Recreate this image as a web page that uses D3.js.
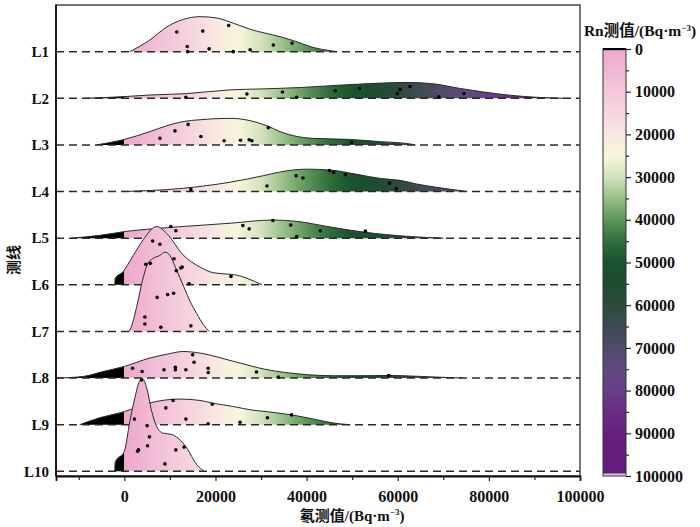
<!DOCTYPE html>
<html>
<head>
<meta charset="utf-8">
<script src="https://cdn.jsdelivr.net/npm/d3@7"></script>
<style>
  body { margin: 0; background: #fff; }
  text { font-family: "Liberation Serif", "Times New Roman", "Noto Sans CJK SC", serif; font-weight: bold; fill: #111; }
</style>
</head>
<body>
<div id="chart"></div>
<script>
// survey lines
const lines = ["L1", "L2", "L3", "L4", "L5", "L6", "L7", "L8", "L9", "L10"];

// density outline per line: [Rn value, ridge height in row units]
const densL1 = [[1200,0],[5600,0.25],[9300,0.53],[12900,0.69],[16600,0.75],[20300,0.72],[23900,0.61],[27600,0.48],[34200,0.32],[37900,0.21],[41400,0.09],[45200,0.02],[46600,0]];
const densL2 = [[-8700,0],[-1000,0.03],[5600,0.07],[13700,0.1],[23200,0.18],[30000,0.2],[38600,0.23],[48800,0.29],[55000,0.32],[62000,0.34],[67800,0.31],[73700,0.21],[78800,0.135],[84700,0.064],[90600,0.02],[96400,0]];
const densL3 = [[-6100,0],[-300,0.11],[5600,0.285],[9300,0.41],[12900,0.5],[16600,0.54],[23200,0.57],[27600,0.52],[31300,0.41],[34200,0.285],[37900,0.18],[41400,0.14],[48800,0.12],[56200,0.07],[62700,0.02],[63900,0]];
const densL4 = [[-600,0],[12900,0.07],[23200,0.2],[30500,0.34],[34200,0.42],[40000,0.48],[45200,0.46],[51000,0.37],[56200,0.28],[60500,0.24],[64200,0.16],[70000,0.07],[75200,0]];
const densL5 = [[-11600,0],[-5400,0.06],[0,0.14],[6000,0.2],[12900,0.25],[23200,0.32],[32700,0.39],[37900,0.36],[45200,0.24],[52500,0.13],[62700,0.035],[70000,0]];
const densL6 = [[-2100,0],[-2000,0.14],[-300,0.28],[1900,0.62],[4100,0.96],[7100,1.25],[9300,1.1],[12900,0.64],[16600,0.38],[19500,0.26],[22500,0.23],[24500,0.21],[26900,0.14],[30200,0]];
const densL7 = [[1000,0],[1600,0.12],[2800,0.57],[4000,1.1],[5100,1.45],[6200,1.56],[7800,1.63],[8900,1.7],[10000,1.63],[11100,1.4],[12200,1.15],[13300,0.9],[14400,0.65],[15900,0.38],[17300,0.15],[18600,0]];
const densL8 = [[-14900,0],[-9000,0.035],[-4700,0.14],[0,0.25],[5600,0.43],[9300,0.51],[12900,0.57],[16600,0.535],[23900,0.36],[31300,0.18],[38600,0.086],[45900,0.05],[51000,0.05],[58300,0.056],[65000,0.035],[74100,0]];
const densL9 = [[-9800,0],[-5400,0.15],[0,0.28],[4900,0.45],[9000,0.53],[12200,0.55],[16600,0.52],[19500,0.46],[23900,0.39],[28300,0.31],[31300,0.28],[37900,0.19],[42200,0.107],[45900,0.036],[49600,0]];
const densL10 = [[-2100,0],[-2000,0.2],[0,0.43],[1200,1.07],[2300,1.57],[3300,1.93],[4000,1.99],[4900,1.79],[6000,1.29],[7100,0.96],[8500,0.82],[10400,0.79],[11800,0.71],[13700,0.5],[15900,0.14],[17500,0]];

// measured samples per line: [Rn value, jitter height in row units]
const dotsL1 = [[11500,0.42],[17200,0.44],[22900,0.56],[13800,0.11],[13900,0],[18600,0.06],[23900,0],[27600,0.04],[32700,0.14],[36800,0.18]];
const dotsL2 = [[13500,0.02],[26900,0.09],[34700,0.135],[37800,0.02],[46300,0.16],[51600,0.21],[59900,0.1],[60500,0.19],[62700,0.25],[69000,0.03],[74500,0.1]];
const dotsL3 = [[7800,0.14],[11100,0.3],[14000,0.44],[16800,0.18],[21900,0.09],[25500,0.1],[27400,0.11],[28000,0.09],[31600,0.37],[49900,0.05]];
const dotsL4 = [[14600,0.04],[31300,0.12],[37700,0.34],[39200,0.29],[45000,0.45],[45900,0.41],[48500,0.36],[58200,0.18],[59700,0.06]];
const dotsL5 = [[10200,0.25],[11300,0.16],[26000,0.27],[27400,0.2],[32600,0.38],[36500,0.28],[37800,0.035],[43000,0.16],[52900,0.15]];
const dotsL6 = [[6200,0.94],[7800,0.87],[4700,0.44],[5700,0.46],[10900,0.56],[11400,0.3],[12400,0.36],[12700,0.38],[14200,0.02],[23400,0.18]];
const dotsL7 = [[7200,0.73],[9500,0.79],[10800,0.82],[4500,0.31],[4500,0.16],[8000,0.09],[14600,0.12]];
const dotsL8 = [[1800,0.21],[3900,0.14],[8700,0.18],[11200,0.23],[11200,0.18],[13500,0.18],[15000,0.5],[15300,0.34],[18400,0.21],[18400,0.12],[29000,0.13],[33800,0.02],[58000,0.056]];
const dotsL9 = [[2200,0.12],[9100,0.36],[10700,0.52],[13500,0.12],[18400,0.02],[19300,0.44],[25400,0.05],[31400,0.15],[36700,0.21]];
const dotsL10 = [[3800,1.96],[5000,0.98],[5500,0.74],[5100,0.55],[2900,0.43],[3100,0.46],[11300,0.46],[13100,0.52],[8900,0.16]];

// axis ticks
const xTicks = [0, 20000, 40000, 60000, 80000, 100000];
const xMinorTicks = [-10000, 10000, 30000, 50000, 70000, 90000];
const cbarTicks = [0, 10000, 20000, 30000, 40000, 50000, 60000, 70000, 80000, 90000, 100000];
const cbarMinorTicks = [5000, 15000, 25000, 35000, 45000, 55000, 65000, 75000, 85000, 95000];

// colour map (values below 0 drawn black)
const cmapValues = [0, 10000, 15000, 20000, 25000, 30000, 35000, 40000, 45000, 50000, 55000, 60000, 65000, 70000, 75000, 80000, 85000, 90000, 100000];
const cmapColors = ["#eea8cb", "#f3c7db", "#f6d6de", "#f9e8e0", "#f7f6dc", "#d3e2bf", "#97bf86", "#5f965a", "#2f6e3c", "#1a522e", "#1c4c30", "#2d4b3c", "#3d4c55", "#504b69", "#604a80", "#693f88", "#6a2c84", "#661f7e", "#641c7c"];

const ridges = lines.map((name, i) => ({
  name, idx: i + 1,
  dens: [densL1, densL2, densL3, densL4, densL5, densL6, densL7, densL8, densL9, densL10][i],
  dots: [dotsL1, dotsL2, dotsL3, dotsL4, dotsL5, dotsL6, dotsL7, dotsL8, dotsL9, dotsL10][i]
}));

const W = 700, H = 527;
const plot = { left: 56, right: 580, top: 5, bottom: 476 };

const svg = d3.select("#chart").append("svg")
  .attr("width", W).attr("height", H)
  .attr("viewBox", `0 0 ${W} ${H}`);

const x = d3.scaleLinear().domain([-15000, 100000]).range([plot.left, plot.right]);
const y = d3.scaleLinear().domain([0, 10.1]).range([plot.top, plot.bottom]);
const color = d3.scaleLinear().domain(cmapValues).range(cmapColors).interpolate(d3.interpolateRgb);

const defs = svg.append("defs");
defs.append("clipPath").attr("id", "plotClip")
  .append("rect")
  .attr("x", plot.left).attr("y", plot.top)
  .attr("width", plot.right - plot.left).attr("height", plot.bottom - plot.top);

// horizontal fill gradient for ridges
const fillGrad = defs.append("linearGradient").attr("id", "ridgeFill")
  .attr("gradientUnits", "userSpaceOnUse")
  .attr("x1", x(-15000)).attr("x2", x(100000)).attr("y1", 0).attr("y2", 0);
const span = x(100000) - x(-15000);
const off = v => (x(v) - x(-15000)) / span;
fillGrad.append("stop").attr("offset", 0).attr("stop-color", "#000");
fillGrad.append("stop").attr("offset", off(0)).attr("stop-color", "#000");
d3.range(0, 100001, 1000).forEach(v => {
  fillGrad.append("stop").attr("offset", off(v)).attr("stop-color", color(v));
});

// ridges
const g = svg.append("g").attr("clip-path", "url(#plotClip)");
ridges.forEach(r => {
  const area = d3.area()
    .x(d => x(d[0]))
    .y0(y(r.idx))
    .y1(d => y(r.idx - d[1]))
    .curve(d3.curveMonotoneX);
  const line = d3.line()
    .x(d => x(d[0]))
    .y(d => y(r.idx - d[1]))
    .curve(d3.curveMonotoneX);
  g.append("path").datum(r.dens)
    .attr("d", area)
    .attr("fill", "url(#ridgeFill)");
  g.append("path").datum(r.dens)
    .attr("d", line)
    .attr("fill", "none")
    .attr("stroke", "#2a2a2a")
    .attr("stroke-width", 1);
  g.append("line")
    .attr("x1", plot.left).attr("x2", plot.right)
    .attr("y1", y(r.idx)).attr("y2", y(r.idx))
    .attr("stroke", "#2a2a2a")
    .attr("stroke-width", 1.5)
    .attr("stroke-dasharray", "8,5");
});

// sample points on top
ridges.forEach(r => {
  g.selectAll(null).data(r.dots).join("circle")
    .attr("cx", d => x(d[0]))
    .attr("cy", d => y(r.idx - d[1]))
    .attr("r", 1.8)
    .attr("fill", "#000");
});

// frame
svg.append("rect")
  .attr("x", plot.left).attr("y", plot.top)
  .attr("width", plot.right - plot.left).attr("height", plot.bottom - plot.top)
  .attr("fill", "none").attr("stroke", "#4a4a4a").attr("stroke-width", 1.5);

// x axis
const xAxis = svg.append("g").attr("transform", `translate(0,${plot.bottom})`)
  .call(d3.axisBottom(x).tickValues(xTicks).tickSize(5).tickPadding(10).tickFormat(d3.format("d")));
svg.append("g").attr("transform", `translate(0,${plot.bottom})`)
  .call(d3.axisBottom(x).tickValues(xMinorTicks).tickSize(4).tickFormat(""))
  .call(a => a.select(".domain").remove());
xAxis.select(".domain").attr("stroke", "#111").attr("stroke-width", 1.8);
svg.selectAll(".tick line").attr("stroke", "#222").attr("stroke-width", 1.2);
xAxis.selectAll("text").attr("font-size", 16).attr("font-family", null);

// y axis labels
svg.append("line")
  .attr("x1", plot.left).attr("x2", plot.left)
  .attr("y1", plot.top).attr("y2", plot.bottom)
  .attr("stroke", "#111").attr("stroke-width", 1.8);
svg.selectAll(".ylab").data(ridges).join("text")
  .attr("class", "ylab")
  .attr("x", plot.left - 7)
  .attr("y", d => y(d.idx))
  .attr("dy", "0.35em")
  .attr("text-anchor", "end")
  .attr("font-size", 15)
  .text(d => d.name);

// axis titles
const xt = svg.append("text")
  .attr("x", x(50000)).attr("y", 521)
  .attr("text-anchor", "middle").attr("font-size", 15);
xt.append("tspan").text("氡测值/(Bq·m");
xt.append("tspan").attr("dy", -6).attr("font-size", 9).text("−3");
xt.append("tspan").attr("dy", 6).text(")");

svg.append("text")
  .attr("transform", "translate(19,260) rotate(-90)")
  .attr("text-anchor", "middle").attr("font-size", 15)
  .text("测线");

// colour bar
const cb = { x: 603, w: 23, top: 49, bottom: 476 };
const cy = d3.scaleLinear().domain([0, 100000]).range([cb.top, cb.bottom]);
const cbGrad = defs.append("linearGradient").attr("id", "cbarFill")
  .attr("x1", 0).attr("x2", 0).attr("y1", 0).attr("y2", 1);
d3.range(0, 100001, 1000).forEach(v => {
  cbGrad.append("stop").attr("offset", v / 100000).attr("stop-color", color(v));
});
svg.append("rect")
  .attr("x", cb.x).attr("y", cb.top)
  .attr("width", cb.w).attr("height", cb.bottom - cb.top)
  .attr("fill", "url(#cbarFill)")
  .attr("stroke", "#333").attr("stroke-width", 1);
svg.append("rect")
  .attr("x", cb.x).attr("y", cb.top - 1)
  .attr("width", cb.w).attr("height", 2.2).attr("fill", "#000");
svg.append("rect")
  .attr("x", cb.x + 0.5).attr("y", cb.bottom - 2.5)
  .attr("width", cb.w - 1).attr("height", 2).attr("fill", "#d9c9d9");

const cAxis = svg.append("g").attr("transform", `translate(${cb.x + cb.w},0)`)
  .call(d3.axisRight(cy).tickValues(cbarTicks).tickSize(5).tickPadding(4).tickFormat(d3.format("d")));
svg.append("g").attr("transform", `translate(${cb.x + cb.w},0)`)
  .call(d3.axisRight(cy).tickValues(cbarMinorTicks).tickSize(3).tickFormat(""))
  .call(a => a.select(".domain").remove());
cAxis.select(".domain").remove();
svg.selectAll(".tick line").attr("stroke", "#222").attr("stroke-width", 1.2);
cAxis.selectAll("text").attr("font-size", 16).attr("font-family", null).attr("fill", "#111");

const ct = svg.append("text")
  .attr("x", 640).attr("y", 36)
  .attr("text-anchor", "middle").attr("font-size", 15.5);
ct.append("tspan").text("Rn测值/(Bq·m");
ct.append("tspan").attr("dy", -5).attr("font-size", 9).text("−3");
ct.append("tspan").attr("dy", 5).text(")");
</script>
</body>
</html>
